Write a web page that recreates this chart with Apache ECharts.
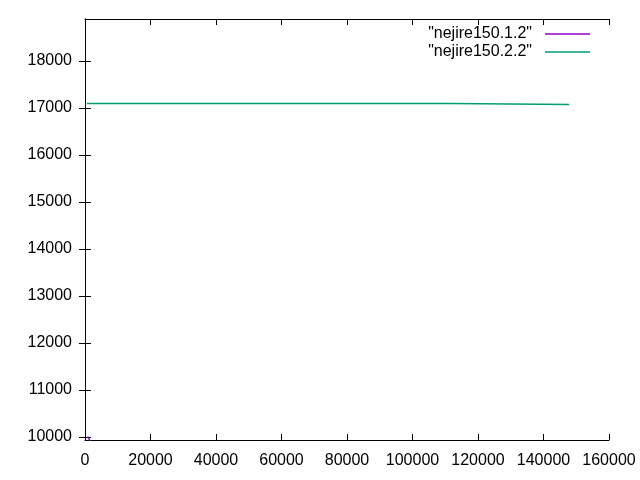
<!DOCTYPE html>
<html>
<head>
<meta charset="utf-8">
<script src="https://cdn.jsdelivr.net/npm/echarts@6/dist/echarts.min.js"></script>
<style>html,body{margin:0;padding:0;background:#fff}#c{width:640px;height:480px}</style>
</head>
<body>
<div id="c"></div>
<script>
const seriesNames = ['"nejire150.1.2"', '"nejire150.2.2"'];
const series1X = [800, 1700];
const series1Y = [10010, 9900];
const series2X = [600, 112060, 112060, 147790];
const series2Y = [17096, 17096, 17075, 17075];
const xTicks = [0, 20000, 40000, 60000, 80000, 100000, 120000, 140000, 160000];
const yTicks = [10000, 11000, 12000, 13000, 14000, 15000, 16000, 17000, 18000];
const xMin = 0, xMax = 160000, yMin = 9936, yMax = 18894;

const font = 'Liberation Sans, Arial, sans-serif';
const zip = (xs, ys) => xs.map((x, i) => [x, ys[i]]);
const plain = (v) => String(v);

const chart = echarts.init(document.getElementById('c'), null, {renderer: 'canvas'});
const axisLine = {show: true, lineStyle: {color: '#000', width: 1}};
const tick = (vals) => ({show: true, inside: true, length: 6, lineStyle: {color: '#000'}, customValues: vals});
chart.setOption({
  animation: false,
  backgroundColor: '#fff',
  grid: {left: 85, right: 31, top: 19, bottom: 40},
  legend: {
    orient: 'vertical', right: 50, top: 26, align: 'right', itemGap: 2, padding: 0,
    itemWidth: 45, itemHeight: 16, icon: 'path://M0,7.75 H45 V9.25 H0 Z',
    textStyle: {fontFamily: font, fontSize: 16, color: '#000', padding: [0, 8, 0, 0]},
    data: seriesNames
  },
  xAxis: [
    {type: 'value', min: xMin, max: xMax, position: 'bottom',
     axisLine, axisTick: tick(xTicks), splitLine: {show: false},
     axisLabel: {customValues: xTicks, formatter: plain, color: '#000', fontFamily: font, fontSize: 16, margin: 13}},
    {type: 'value', min: xMin, max: xMax, position: 'top',
     axisLine, axisTick: tick(xTicks), splitLine: {show: false}, axisLabel: {show: false}}
  ],
  yAxis: [
    {type: 'value', min: yMin, max: yMax, position: 'left',
     axisLine, axisTick: tick(yTicks), splitLine: {show: false},
     axisLabel: {customValues: yTicks, formatter: plain, color: '#000', fontFamily: font, fontSize: 16, margin: 13}},
    {type: 'value', min: yMin, max: yMax, position: 'right',
     axisLine, axisTick: tick(yTicks), splitLine: {show: false}, axisLabel: {show: false}}
  ],
  series: [
    {name: seriesNames[0], type: 'line', data: zip(series1X, series1Y), showSymbol: false, symbol: 'none',
     lineStyle: {color: '#9400d3', width: 1.5}, itemStyle: {color: '#9400d3'}, clip: true},
    {name: seriesNames[1], type: 'line', data: zip(series2X, series2Y), showSymbol: false, symbol: 'none',
     lineStyle: {color: '#009e73', width: 1.5}, itemStyle: {color: '#009e73'}, clip: true}
  ]
});
</script>
</body>
</html>
